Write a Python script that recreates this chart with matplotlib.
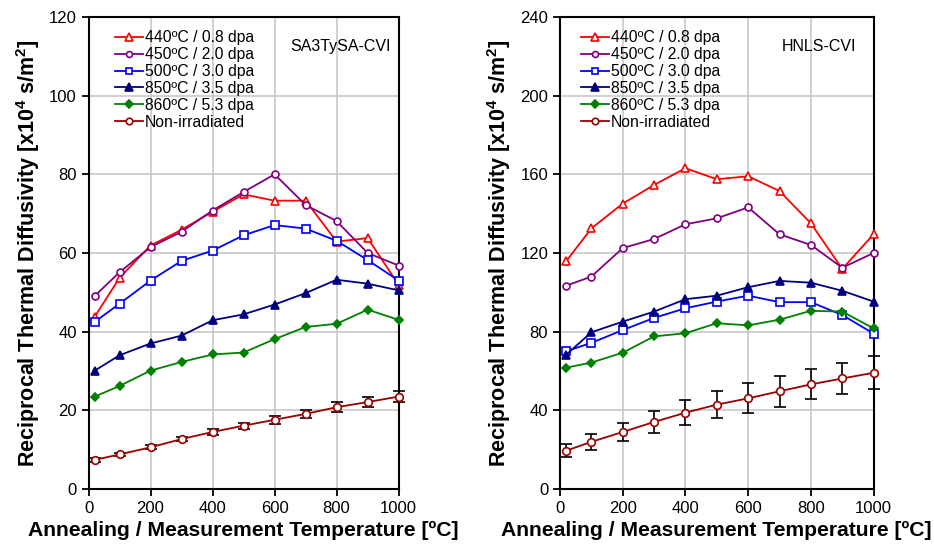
import matplotlib
matplotlib.use("Agg")
import matplotlib.pyplot as plt

plt.rcParams['font.family'] = ['Liberation Sans', 'DejaVu Sans']
plt.rcParams['mathtext.fontset'] = 'custom'
plt.rcParams['mathtext.rm'] = 'Liberation Sans'
plt.rcParams['mathtext.bf'] = 'Liberation Sans:bold'

# temperatures (room temperature first)
temps = [20, 100, 200, 300, 400, 500, 600, 700, 800, 900, 1000]

labels = ["440ºC / 0.8 dpa", "450ºC / 2.0 dpa", "500ºC / 3.0 dpa",
          "850ºC / 3.5 dpa", "860ºC / 5.3 dpa", "Non-irradiated"]

# SA3TySA-CVI
sa_440 = [43.8, 53.7, 61.9, 65.9, 70.5, 74.9, 73.3, 73.3, 62.9, 63.8, 51.9]
sa_450 = [49.1, 55.1, 61.5, 65.4, 70.8, 75.5, 80.0, 72.2, 68.1, 60.0, 56.8]
sa_500 = [42.5, 47.1, 53.0, 58.0, 60.6, 64.5, 67.1, 66.2, 63.1, 58.2, 53.0]
sa_850 = [30.1, 34.0, 37.0, 39.0, 42.9, 44.4, 46.9, 49.8, 53.2, 52.2, 50.5]
sa_860 = [23.5, 26.2, 30.1, 32.3, 34.2, 34.7, 38.1, 41.2, 42.0, 45.6, 43.0]
sa_nonirr = [7.4, 8.8, 10.6, 12.7, 14.5, 16.1, 17.6, 19.1, 20.8, 22.1, 23.5]
sa_err = [0.5, 0.4, 0.5, 0.5, 0.7, 0.8, 1.0, 1.0, 1.3, 1.2, 1.4]

# HNLS-CVI
hn_440 = [115.9, 132.5, 145.1, 154.6, 163.1, 157.5, 159.0, 151.5, 135.1, 111.9, 129.5]
hn_450 = [103.4, 108.0, 122.5, 127.1, 134.6, 137.6, 143.2, 129.5, 124.1, 112.5, 120.0]
hn_500 = [70.1, 74.3, 80.8, 87.0, 91.9, 95.3, 98.3, 95.0, 95.0, 88.5, 79.0]
hn_850 = [68.3, 79.7, 85.1, 90.2, 96.5, 98.3, 102.6, 105.8, 104.9, 100.8, 95.3]
hn_860 = [61.7, 64.3, 69.3, 77.6, 79.2, 84.3, 83.2, 86.1, 90.6, 90.2, 81.7]
hn_nonirr = [19.5, 24.0, 29.0, 34.1, 38.8, 42.9, 46.1, 49.7, 53.2, 56.2, 59.1]
hn_err = [3.2, 4.1, 4.8, 5.6, 6.5, 6.9, 7.6, 7.9, 7.6, 7.8, 8.3]

styles = [
    dict(color='#ff0000', marker='^', mfc='white', ms=6),
    dict(color='#800080', marker='o', mfc='white', ms=5),
    dict(color='#0000ff', marker='s', mfc='white', ms=5.5),
    dict(color='#000080', marker='^', mfc='#000080', ms=6),
    dict(color='#008000', marker='D', mfc='#008000', ms=4.5),
    dict(color='#990000', marker='o', mfc='white', ms=5.5),
]

fig = plt.figure(figsize=(9.34, 5.47), dpi=100)
ax1 = fig.add_axes([0.0948, 0.106, 0.332, 0.863])
ax2 = fig.add_axes([0.5996, 0.106, 0.3357, 0.863])


def draw(ax, series, err, ymax, ystep, name, name_x, leg_x):
    for i, (vals, lab) in enumerate(zip(series, labels)):
        st = styles[i]
        ax.plot(temps, vals, color=st['color'], marker=st['marker'],
                mfc=st['mfc'], mec=st['color'], ms=st['ms'], mew=1.2,
                lw=1.3, label=lab, zorder=3, clip_on=False)
    ax.errorbar(temps, series[-1], yerr=err, fmt='none', ecolor='black',
                elinewidth=1.2, capsize=4, capthick=1.2, zorder=2, clip_on=False)
    ax.set_xlim(0, 1000)
    ax.set_ylim(0, ymax)
    ax.set_xticks(range(0, 1001, 200))
    ax.set_yticks(range(0, ymax + 1, ystep))
    ax.grid(True, color='#c8c8c8', lw=1.2)
    ax.set_axisbelow(True)
    for sp in ax.spines.values():
        sp.set_linewidth(1.5)
        sp.set_color('black')
    ax.tick_params(direction='out', length=5, width=1.3, labelsize=12,
                   colors='black')
    ax.set_xlabel("Annealing / Measurement Temperature [ºC]",
                  fontsize=15.2, fontweight='bold', labelpad=4)
    ax.set_ylabel(r"Reciprocal Thermal Diffusivity [x10$^\mathbf{4}$ s/m$^\mathbf{2}$]",
                  fontsize=15.5, fontweight='bold', labelpad=5)
    ax.legend(loc='upper left', frameon=False, fontsize=11.3, markerscale=0.85,
              handlelength=1.75, handletextpad=0.15, labelspacing=0.12,
              borderaxespad=0.45, bbox_to_anchor=(leg_x, 1.0))
    ax.text(name_x, 0.937, name, transform=ax.transAxes, fontsize=11.5,
            ha='right', va='center')


draw(ax1, [sa_440, sa_450, sa_500, sa_850, sa_860, sa_nonirr], sa_err,
     120, 20, "SA3TySA-CVI", 0.975, 0.043)
draw(ax2, [hn_440, hn_450, hn_500, hn_850, hn_860, hn_nonirr], hn_err,
     240, 40, "HNLS-CVI", 0.945, 0.025)

fig.savefig("out.png", dpi=100)
